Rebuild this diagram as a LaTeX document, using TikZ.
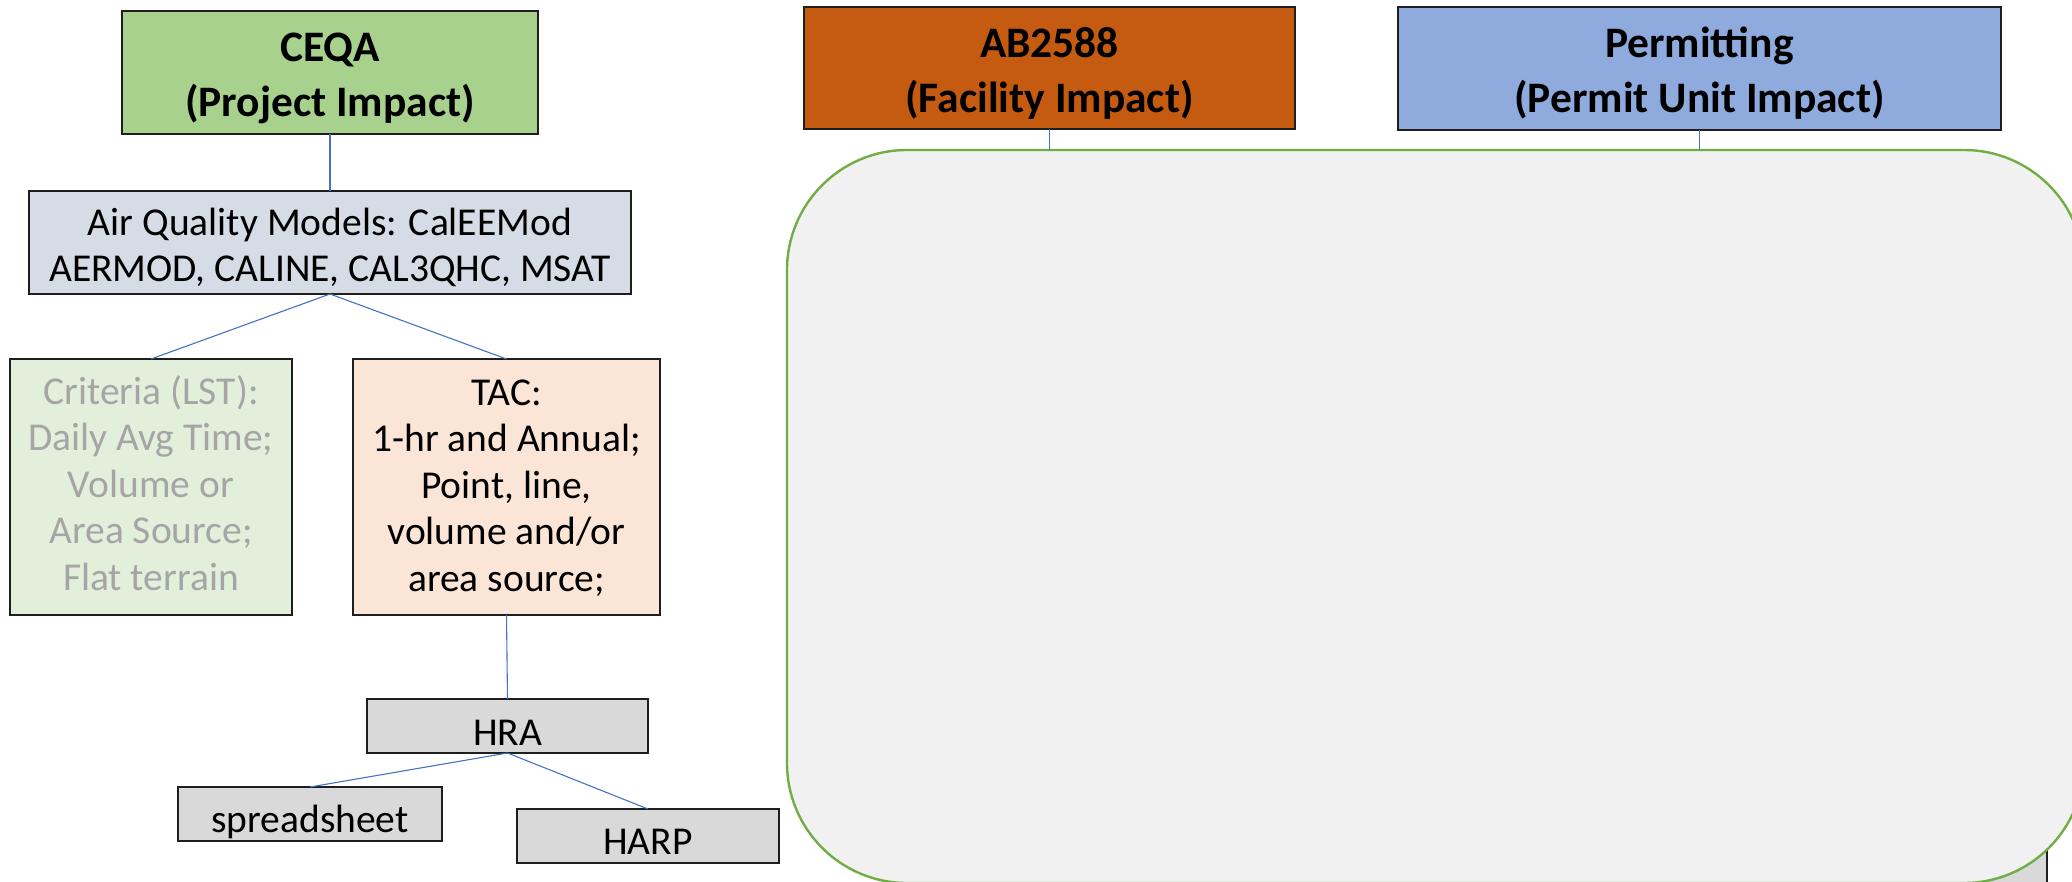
\documentclass[tikz,border=0pt]{standalone}
\usepackage{fontspec}
\setmainfont{Carlito}
\definecolor{linkblue}{HTML}{4472C4}
\definecolor{boxline}{HTML}{1E1E1E}
\definecolor{ceqafill}{HTML}{A9D18E}
\definecolor{aqfill}{HTML}{D6DCE5}
\definecolor{critfill}{HTML}{E2EFDA}
\definecolor{crittext}{HTML}{A5A5A5}
\definecolor{tacfill}{HTML}{FBE5D6}
\definecolor{greyfill}{HTML}{D9D9D9}
\definecolor{abfill}{HTML}{C55A11}
\definecolor{permfill}{HTML}{8FAADC}
\definecolor{regionfill}{HTML}{F1F1F1}
\definecolor{regionline}{HTML}{70AD47}
\begin{document}
\begin{tikzpicture}[x=1pt,y=-1pt,
  box/.style={draw=boxline, line width=1.6pt, inner sep=0pt, outer sep=0pt},
  % anchor=base of a multi-line label sits on its last line
  body/.style={align=center, anchor=base, inner sep=0pt,
    font=\fontsize{39.5}{46.5}\selectfont},
  title/.style={align=center, anchor=base, inner sep=0pt,
    font=\fontsize{43.5}{55}\selectfont\bfseries},
  link/.style={draw=linkblue, line width=1.1pt}
]
\useasboundingbox (0,0) rectangle (2072,882);
\clip (0,0) rectangle (2072,882);

% box partly hidden behind the rounded region
\node[box, fill=greyfill, minimum width=257, minimum height=100] (under) at (1918.5,855) {};

% rounded region on the right
\node[draw=regionline, fill=regionfill, line width=2.4pt, rounded corners=120pt,
  inner sep=0pt, outer sep=0pt, minimum width=1297, minimum height=733] (region) at (1435.5,516.5) {};

% CEQA branch
\node[box, fill=ceqafill, minimum width=416, minimum height=123] (ceqa) at (330,72.5) {};
\node[title] (ceqa-t) at (330,117) {CEQA\\(Project Impact)};

\node[box, fill=aqfill, minimum width=602, minimum height=103] (aq) at (330,242.5) {};
\node[body] (aq-t) at (330,282) {Air Quality Models: CalEEMod\\AERMOD, CALINE, CAL3QHC, MSAT};

\node[box, fill=critfill, minimum width=282, minimum height=256] (crit) at (151,487) {};
\node[body, text=crittext] (crit-t) at (151,590) {Criteria (LST):\\Daily Avg Time;\\Volume or\\Area Source;\\Flat terrain};

\node[box, fill=tacfill, minimum width=307, minimum height=256] (tac) at (506.5,487) {};
\node[body] (tac-t) at (506.5,591) {TAC:\\1-hr and Annual;\\Point, line,\\volume and/or\\area source;};

\node[box, fill=greyfill, minimum width=281, minimum height=54] (hra) at (507.5,726) {};
\node[body] (hra-t) at (507.5,745) {HRA};

\node[box, fill=greyfill, minimum width=264, minimum height=54] (sheet) at (310,814) {};
\node[body] (sheet-t) at (310,832) {spreadsheet};

\node[box, fill=greyfill, minimum width=262, minimum height=54] (harp) at (648,836) {};
\node[body] (harp-t) at (648,854) {HARP};

% heads on the right
\node[box, fill=abfill, minimum width=491, minimum height=122] (ab) at (1049.5,68) {};
\node[title] (ab-t) at (1049.5,113) {AB2588\\(Facility Impact)};

\node[box, fill=permfill, minimum width=603, minimum height=123] (perm) at (1699.5,68.5) {};
\node[title] (perm-t) at (1699.5,113) {Permitting\\(Permit Unit Impact)};

% connectors
\draw[link] (ceqa.south) -- (aq.north);
\draw[link] (aq.south) -- (crit.north);
\draw[link] (aq.south) -- (tac.north);
\draw[link] (tac.south) -- (hra.north);
\draw[link] (hra.south) -- (sheet.north);
\draw[link] (hra.south) -- (harp.north);
\draw[link] (ab.south) -- (ab.south |- region.north);
\draw[link] (perm.south) -- (perm.south |- region.north);
\end{tikzpicture}
\end{document}
